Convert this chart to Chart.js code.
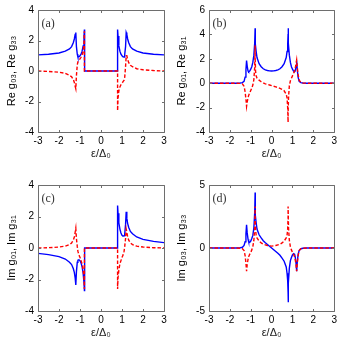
<!DOCTYPE html>
<html><head><meta charset="utf-8">
<script src="https://cdn.jsdelivr.net/npm/chart.js@4.4.1/dist/chart.umd.min.js"></script>
<style>
html,body{margin:0;padding:0;background:#fff;width:340px;height:348px;overflow:hidden}
.p{position:absolute;width:170px;height:174px}
canvas{display:block}
</style></head><body>
<div class="p" style="left:0;top:0"><canvas id="ca" width="170" height="174"></canvas></div>
<div class="p" style="left:170px;top:0"><canvas id="cb" width="170" height="174"></canvas></div>
<div class="p" style="left:0;top:174px"><canvas id="cc" width="170" height="174"></canvas></div>
<div class="p" style="left:170px;top:174px"><canvas id="cd" width="170" height="174"></canvas></div>
<script>
// energy axis epsilon/Delta0 (shared sample points)
const eps = [-3,-2.5,-2,-1.7,-1.5,-1.4,-1.32,-1.27,-1.23,-1.2,-1.17,-1.13,-1.1,-1.05,-1,-0.95,-0.9,-0.85,-0.81,-0.79,-0.79,-0.77,-0.74,-0.7,-0.6,-0.5,-0.4,-0.3,-0.2,-0.1,0,
  0.1,0.2,0.3,0.4,0.5,0.6,0.7,0.74,0.77,0.79,0.79,0.81,0.85,0.9,0.95,1,1.05,1.1,1.13,1.17,1.2,1.23,1.27,1.32,1.4,1.5,1.7,2,2.5,3];

// (a)
const reG03 = [1.06,1.1,1.18,1.3,1.45,1.6,1.85,2.1,2.4,2.52,1.6,1.1,0.92,0.93,1.0,1.1,1.3,1.65,2.3,2.72,0,0,0,0,0,0,0,0,0,0,0,
  0,0,0,0,0,0,0,0,0,0,2.72,2.3,1.65,1.3,1.1,1.0,0.93,0.92,1.1,1.6,2.52,2.4,2.1,1.85,1.6,1.45,1.3,1.18,1.1,1.06];
const reG33 = [0,-0.03,-0.08,-0.15,-0.28,-0.38,-0.55,-0.75,-1.0,-1.16,-0.3,0.4,0.6,0.7,0.8,0.9,1.05,1.3,1.8,2.6,0,0,0,0,0,0,0,0,0,0,0,
  0,0,0,0,0,0,0,0,0,0,-2.6,-1.8,-1.3,-1.05,-0.9,-0.8,-0.7,-0.6,-0.4,0.3,1.0,1.0,0.75,0.55,0.38,0.28,0.15,0.08,0.03,0];
// (b)
const reG01 = [0,0,0,0,0.02,0.05,0.15,0.5,1.1,1.85,1.4,1.0,0.93,1.0,1.15,1.35,1.7,2.3,3.3,4.5,4.0,3.2,2.6,2.1,1.6,1.35,1.18,1.09,1.04,1.01,1.0,
  1.01,1.04,1.09,1.18,1.35,1.6,2.1,2.6,3.2,4.0,4.5,3.3,2.3,1.7,1.35,1.15,1.0,0.93,1.0,1.4,1.85,1.1,0.5,0.15,0.05,0.02,0,0,0,0];
const reG31 = [0,0,0,0,-0.02,-0.06,-0.25,-0.7,-1.3,-1.9,-1.55,-1.2,-1.0,-0.8,-0.6,-0.4,-0.15,0.3,1.3,3.1,2.2,1.0,0.6,0.42,0.25,0.12,0.02,-0.05,-0.1,-0.15,-0.2,
  -0.25,-0.3,-0.35,-0.42,-0.5,-0.62,-0.9,-1.2,-2.0,-3.2,-2.5,-1.2,-0.2,0.2,0.4,0.6,0.8,1.0,1.2,1.6,1.9,1.3,0.7,0.25,0.06,0.02,0,0,0,0];
// (c)
const imG01 = [-0.34,-0.42,-0.55,-0.7,-0.9,-1.05,-1.3,-1.55,-1.9,-2.35,-1.5,-0.9,-0.78,-0.75,-0.8,-0.95,-1.2,-1.6,-2.2,-2.7,0,0,0,0,0,0,0,0,0,0,0,
  0,0,0,0,0,0,0,0,0,0,2.7,2.2,1.6,1.2,0.95,0.8,0.75,0.78,0.9,1.5,2.3,1.9,1.55,1.3,1.05,0.9,0.7,0.55,0.42,0.34];
const imG31 = [0,0.02,0.06,0.12,0.22,0.32,0.5,0.7,1.0,1.25,0.6,0.1,-0.2,-0.45,-0.6,-0.8,-1.0,-1.4,-1.9,-2.6,0,0,0,0,0,0,0,0,0,0,0,
  0,0,0,0,0,0,0,0,0,0,-2.6,-1.9,-1.4,-1.0,-0.8,-0.6,-0.45,-0.2,0.1,0.6,1.2,1.0,0.7,0.5,0.32,0.22,0.12,0.06,0.02,0];
// (d)
const imG03 = [0,0,0,0,0.02,0.06,0.2,0.5,1.1,1.85,1.2,0.7,0.5,0.45,0.55,0.75,1.0,1.6,2.8,4.4,3.5,2.6,2.0,1.5,1.05,0.8,0.58,0.42,0.28,0.14,0,
  -0.14,-0.28,-0.42,-0.58,-0.8,-1.05,-1.5,-2.0,-2.6,-3.5,-4.3,-2.8,-1.6,-1.0,-0.75,-0.55,-0.45,-0.5,-0.7,-1.2,-1.85,-1.1,-0.5,-0.2,-0.06,-0.02,0,0,0,0];
const imG33 = [0,0,0,0,-0.02,-0.06,-0.2,-0.6,-1.2,-1.85,-1.3,-0.9,-0.7,-0.5,-0.35,-0.15,0.1,0.6,1.6,3.3,2.5,1.5,1.0,0.8,0.55,0.4,0.3,0.25,0.2,0.17,0.15,
  0.17,0.2,0.25,0.3,0.4,0.55,0.8,1.0,1.5,2.5,3.3,1.6,0.6,0.1,-0.15,-0.35,-0.5,-0.7,-0.9,-1.3,-1.85,-1.2,-0.6,-0.2,-0.06,-0.02,0,0,0,0];

const xTicks = [-3,-2,-1,0,1,2,3];
const yTicksA = [-4,-2,0,2,4];
const yTicksB = [-4,-2,0,2,4,6];
const yTicksC = [-4,-2,0,2,4];
const yTicksD = [-5,0,5];

const BLUE = '#0000ff', RED = '#ff0000';
const pts = ys => eps.map((x, i) => ({x, y: ys[i]}));

const boxPlugin = {
  id: 'boxTicks',
  afterDraw(chart, args, opts) {
    const {ctx, chartArea: a, scales} = chart;
    const L = Math.round(a.left) + 0.5, T = Math.round(a.top) + 0.5;
    const R = Math.round(a.right) + 0.5, B = Math.round(a.bottom) + 0.5;
    ctx.save();
    ctx.strokeStyle = '#6e6e6e';
    ctx.lineWidth = 1;
    ctx.beginPath();
    ctx.rect(L, T, R - L, B - T);
    scales.x.ticks.forEach(t => {
      const px = Math.round(scales.x.getPixelForValue(t.value)) + 0.5;
      ctx.moveTo(px, B); ctx.lineTo(px, B - 2.5);
      ctx.moveTo(px, T); ctx.lineTo(px, T + 2.5);
    });
    scales.y.ticks.forEach(t => {
      const py = Math.round(scales.y.getPixelForValue(t.value)) + 0.5;
      ctx.moveTo(L, py); ctx.lineTo(L + 2.5, py);
      ctx.moveTo(R, py); ctx.lineTo(R - 2.5, py);
    });
    ctx.stroke();
    ctx.fillStyle = '#333';
    ctx.font = '12px "Liberation Serif", serif';
    ctx.textBaseline = 'middle';
    ctx.textAlign = 'left';
    ctx.fillText(opts.label, a.left + 3.5, a.top + 13.5);
    ctx.restore();
  }
};

function panel(id, blue, red, yMin, yMax, yTicks, yTitle, label, g) {
  new Chart(document.getElementById(id), {
    type: 'line',
    data: {
      datasets: [
        {data: pts(red), borderColor: RED, borderWidth: 1.4, borderDash: [3.5, 2], pointRadius: 0, tension: 0, fill: false},
        {data: pts(blue), borderColor: BLUE, borderWidth: 1.4, pointRadius: 0, tension: 0, fill: false}
      ]
    },
    options: {
      responsive: false, animation: false, devicePixelRatio: 1,
      parsing: false,
      layout: {padding: {left: 0, right: g.pr, top: g.pt, bottom: 0}},
      plugins: {legend: {display: false}, tooltip: {enabled: false}, boxTicks: {label}},
      scales: {
        x: {
          type: 'linear', min: -3, max: 3,
          afterBuildTicks: s => { s.ticks = xTicks.map(v => ({value: v})); },
          afterFit: s => { s.height = g.xh; },
          grid: {display: false, drawTicks: false}, border: {display: false},
          ticks: {color: '#000', padding: 3, autoSkip: false, maxRotation: 0, font: {family: '"Liberation Sans", Arial, sans-serif', size: 10}},
          title: {display: true, text: 'ε/Δ₀', color: '#222', padding: {top: 0, bottom: g.tb}, font: {family: '"Liberation Sans", Arial, sans-serif', size: 11}}
        },
        y: {
          type: 'linear', min: yMin, max: yMax,
          afterBuildTicks: s => { s.ticks = yTicks.map(v => ({value: v})); },
          afterFit: s => { s.width = g.yw; },
          grid: {display: false, drawTicks: false}, border: {display: false},
          ticks: {color: '#000', padding: 4, autoSkip: false, font: {family: '"Liberation Sans", Arial, sans-serif', size: 10}},
          title: {display: true, text: yTitle, color: '#000', padding: {top: 5, bottom: 0}, font: {family: '"Liberation Sans", Arial, sans-serif', size: 11}}
        }
      }
    },
    plugins: [boxPlugin]
  });
}

panel('ca', reG03, reG33, -4, 4, yTicksA, 'Re g₀₃, Re g₃₃', '(a)', {yw: 38, pr: 6, pt: 6, xh: 42, tb: 13});
panel('cb', reG01, reG31, -4, 6, yTicksB, 'Re g₀₁, Re g₃₁', '(b)', {yw: 39, pr: 5, pt: 6, xh: 42, tb: 13});
panel('cc', imG01, imG31, -4, 4, yTicksC, 'Im g₀₁, Im g₃₁', '(c)', {yw: 38, pr: 6, pt: 11, xh: 37, tb: 8});
panel('cd', imG03, imG33, -5, 5, yTicksD, 'Im g₀₃, Im g₃₃', '(d)', {yw: 39, pr: 5, pt: 11, xh: 37, tb: 8});
</script>
</body></html>
